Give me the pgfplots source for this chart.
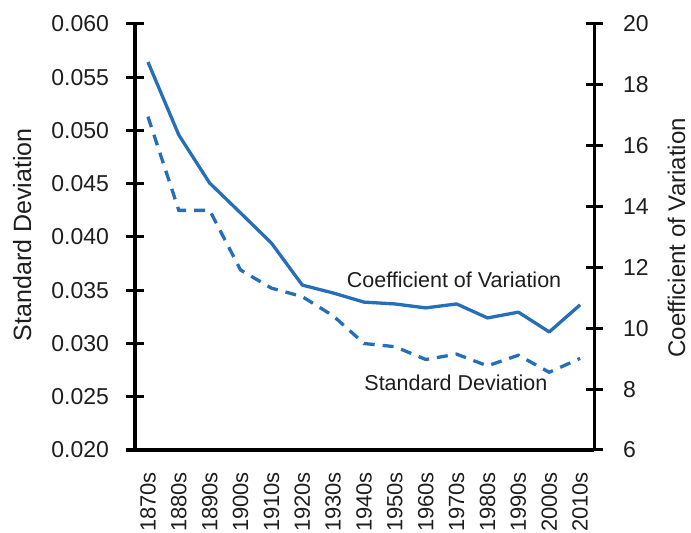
\documentclass[border=0pt]{standalone}
\usepackage{fontspec}
\setmainfont{Liberation Sans}
\usepackage{pgfplots}
\pgfplotsset{compat=1.18}
\definecolor{lineblue}{RGB}{38,110,182}
\definecolor{txt}{RGB}{30,30,30}

\pgfplotstableread{
x sd
0  0.0513
1  0.0425
2  0.0425
3  0.0369
4  0.0352
5  0.0344
6  0.0326
7  0.0300
8  0.0297
9  0.0285
10 0.0290
11 0.0279
12 0.0289
13 0.0273
14 0.0286
}\sdtable

\pgfplotstableread{
x cv
0  18.75
1  16.35
2  14.77
3  13.79
4  12.80
5  11.42
6  11.16
7  10.86
8  10.80
9  10.67
10 10.80
11 10.34
12 10.53
13 9.88
14 10.77
}\cvtable

\begin{document}
\begin{tikzpicture}
\useasboundingbox (0,0) rectangle (691bp,533bp);
\pgfplotsset{
  common/.style={
    at={(135bp,83bp)}, anchor=south west, scale only axis,
    width=459bp, height=426bp,
    xmin=-0.42, xmax=14.45,
    axis line style={line width=3bp, black},
    tick align=center, major tick length=17bp,
    every tick/.style={line width=3bp, black},
    tick label style={text=txt, font=\fontsize{23bp}{27bp}\selectfont},
    scaled y ticks=false,
    clip=false,
  }
}
\begin{axis}[common,
  axis x line*=bottom, axis y line*=left,
  ymin=0.020, ymax=0.060,
  xtick={0,...,14},
  xticklabels={1870s,1880s,1890s,1900s,1910s,1920s,1930s,1940s,1950s,1960s,1970s,1980s,1990s,2000s,2010s},
  x tick label style={yshift=-10bp, rotate=90, anchor=east, font=\fontsize{22bp}{26bp}\selectfont},
  x tick style={draw=none},
  ytick={0.020,0.025,0.030,0.035,0.040,0.045,0.050,0.055,0.060},
  yticklabels={0.020,0.025,0.030,0.035,0.040,0.045,0.050,0.055,0.060},
  y tick label style={xshift=-14bp},
  ylabel={Standard Deviation},
  ylabel style={at={(axis description cs:-0.246,0.505)}, anchor=center, text=txt, font=\fontsize{25bp}{29bp}\selectfont},
]
\addplot[lineblue, line width=3.3bp, dash pattern=on 11bp off 8bp] table[x=x, y=sd] {\sdtable};
\node[text=txt, font=\fontsize{21.5bp}{25bp}\selectfont] at (axis description cs:0.695,0.399) {Coefficient of Variation};
\node[text=txt, font=\fontsize{21.5bp}{25bp}\selectfont] at (axis description cs:0.699,0.157) {Standard Deviation};
\end{axis}
\begin{axis}[common,
  axis x line=none, axis y line*=right,
  ymin=6, ymax=20,
  ytick={6,8,10,12,14,16,18,20},
  yticklabels={6,8,10,12,14,16,18,20},
  y tick label style={xshift=17bp},
  ylabel={Coefficient of Variation},
  ylabel style={at={(axis description cs:1.180,0.498)}, anchor=center, text=txt, font=\fontsize{24bp}{28bp}\selectfont},
]
\addplot[lineblue, line width=3.3bp, line join=round] table[x=x, y=cv] {\cvtable};
\end{axis}
\end{tikzpicture}
\end{document}
